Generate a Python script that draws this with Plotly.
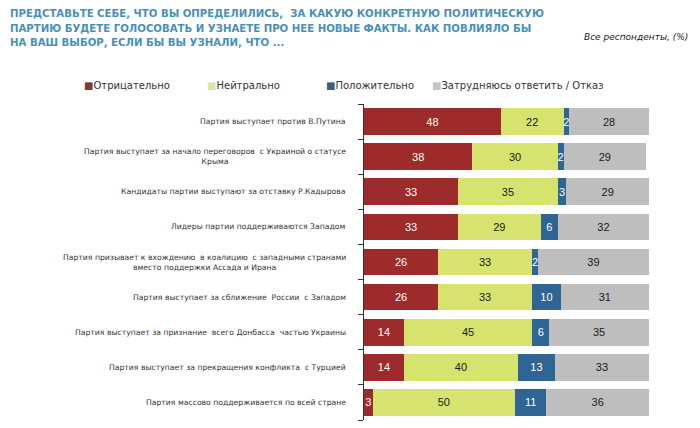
import plotly.graph_objects as go

categories = [
    "Партия выступает против В.Путина",
    "Партия выступает за начало переговоров  с Украиной о статусе<br>Крыма",
    "Кандидаты партии выступают за отставку Р.Кадырова",
    "Лидеры партии поддерживаются Западом",
    "Партия призывает к вхождению  в коалицию  с западными странами<br>вместо поддержки Ассада и Ирана",
    "Партия выступает за сближение  России  с Западом",
    "Партия выступает за признание  всего Донбасса  частью Украины",
    "Партия выступает за прекращения конфликта  с Турцией",
    "Партия массово поддерживается по всей стране",
]
series_names = ["Отрицательно", "Нейтрально", "Положительно", "Затрудняюсь ответить / Отказ"]
negative = [48, 38, 33, 33, 26, 26, 14, 14, 3]
neutral = [22, 30, 35, 29, 33, 33, 45, 40, 50]
positive = [2, 2, 3, 6, 2, 10, 6, 13, 11]
undecided = [28, 29, 29, 32, 39, 31, 35, 33, 36]

series_values = [negative, neutral, positive, undecided]
bar_colors = ["#9E2B2B", "#D6E36F", "#2F6594", "#BEBEBE"]
legend_colors = ["#7E3B3B", "#D9E6A6", "#3B5F80", "#C4C4C4"]
text_colors = ["white", "#1a1a1a", "white", "#1a1a1a"]

OFF = 8  # page body margin
W, H = 700 - OFF, 428 - OFF
ML, MR, MT, MB = 364 - OFF, 51, 104 - OFF, 16 - OFF
PW = W - ML - MR
PH = H - MT - MB

def px_to_paper_x(px):
    return (px - OFF - ML) / PW

def px_to_paper_y(py):
    return (H - MB - (py - OFF)) / PH

ypos = list(range(len(categories)))

fig = go.Figure()
for name, vals, col, tcol in zip(series_names, series_values, bar_colors, text_colors):
    fig.add_trace(go.Bar(
        y=ypos, x=vals, orientation="h", name=name,
        marker=dict(color=col, line=dict(width=0)),
        text=[str(v) for v in vals],
        textposition="inside", insidetextanchor="middle", textangle=0,
        constraintext="none",
        textfont=dict(family="Liberation Sans, Arial", size=11, color=tcol),
        showlegend=False,
    ))

annotations = []
for i, cat in enumerate(categories):
    annotations.append(dict(
        x=px_to_paper_x(348), xref="paper", y=i, yref="y",
        text=cat, showarrow=False, xanchor="right", yanchor="middle",
        align="center",
        font=dict(family="DejaVu Sans", size=7.7, color="#333333"),
    ))

legend_x = [82, 205, 324, 430]
for name, col, lx in zip(series_names, legend_colors, legend_x):
    annotations.append(dict(
        x=px_to_paper_x(lx), xref="paper", y=px_to_paper_y(86), yref="paper",
        text=f"<span style='color:{col}'>■</span>{name}",
        showarrow=False, xanchor="left", yanchor="middle",
        font=dict(family="DejaVu Sans", size=10, color="#333333"),
    ))

annotations.append(dict(
    x=px_to_paper_x(690), xref="paper", y=px_to_paper_y(37), yref="paper",
    text="Все респонденты, (%)", showarrow=False, xanchor="right", yanchor="middle",
    font=dict(family="DejaVu Sans", size=9, color="#222222", style="italic"),
))

title_text = ("<b>ПРЕДСТАВЬТЕ СЕБЕ, ЧТО ВЫ ОПРЕДЕЛИЛИСЬ,  ЗА КАКУЮ КОНКРЕТНУЮ ПОЛИТИЧЕСКУЮ<br>"
              "ПАРТИЮ БУДЕТЕ ГОЛОСОВАТЬ И УЗНАЕТЕ ПРО НЕЕ НОВЫЕ ФАКТЫ. КАК ПОВЛИЯЛО БЫ<br>"
              "НА ВАШ ВЫБОР, ЕСЛИ БЫ ВЫ УЗНАЛИ, ЧТО ...</b>")
annotations.append(dict(
    x=px_to_paper_x(8), xref="paper", y=px_to_paper_y(5), yref="paper",
    text=title_text, showarrow=False, xanchor="left", yanchor="top", align="left",
    font=dict(family="Liberation Sans Narrow, Arial Narrow, DejaVu Sans Condensed", size=11.3, color="#4A8FB9"),
))

fig.update_layout(
    width=W, height=H,
    margin=dict(l=ML, r=MR, t=MT, b=MB),
    barmode="stack", bargap=0.24,
    plot_bgcolor="white", paper_bgcolor="white",
    xaxis=dict(range=[0, 100], visible=False, fixedrange=True),
    yaxis=dict(range=[len(categories) - 0.5, -0.5], showline=True, linecolor="#333333", linewidth=1,
               tickvals=[i - 0.5 for i in range(len(categories) + 1)], ticktext=[""] * (len(categories) + 1),
               ticks="outside", ticklen=5, tickcolor="#333333", showgrid=False, zeroline=False, fixedrange=True),
    annotations=annotations,
    showlegend=False,
)

fig.write_html("out.html")
